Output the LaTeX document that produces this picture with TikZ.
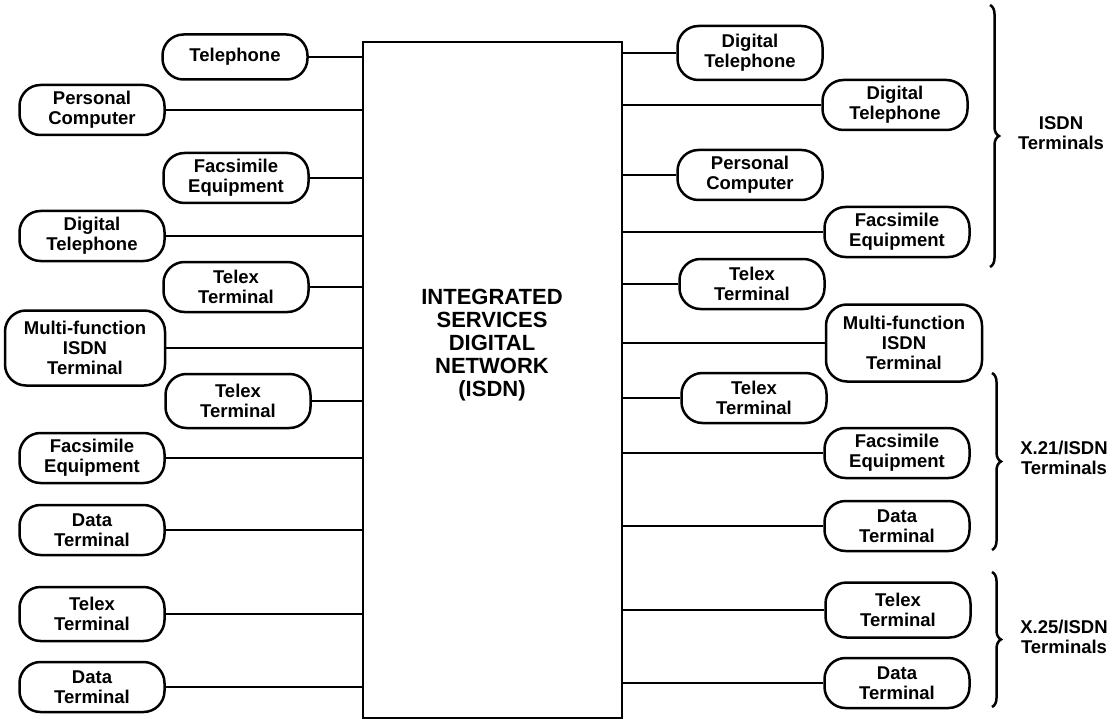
\documentclass[tikz,border=0pt]{standalone}
\usepackage{fontspec}
\setmainfont{Liberation Sans}
\usepackage{tikz}
\usetikzlibrary{positioning, decorations.pathreplacing}

\begin{document}
\begin{tikzpicture}[
        x=1pt, y=-1pt,
        every node/.style={font=\bfseries\fontsize{18.5}{20}\selectfont},
        term/.style={draw, line width=2.5pt, rounded corners=21pt, minimum width=145pt, minimum height=50pt, align=center, inner sep=2pt},
        wire/.style={line width=2.3pt},
        grp/.style={line width=2.5pt, decorate, decoration={brace, amplitude=9pt}}
    ]
        \useasboundingbox (0,0) rectangle (1118,719);

        % Network
        \node (isdn) [draw, line width=2.2pt, minimum width=259pt, minimum height=676pt] at (492.5,380) {};
        \node (isdntext) [align=center, font=\bfseries\fontsize{22}{23}\selectfont] at (492,345) {INTEGRATED\\SERVICES\\DIGITAL\\NETWORK\\(ISDN)};

        % Left terminals
        \node (ltel) [term, minimum height=45pt] at (235,57) {Telephone};
        \node (lpc) [term] at (92,110) {Personal\\Computer};
        \node (lfax1) [term] at (236,178) {Facsimile\\Equipment};
        \node (ldtel) [term] at (92,236) {Digital\\Telephone};
        \node (ltlx1) [term] at (236,287) {Telex\\Terminal};
        \node (lmulti) [term, minimum width=160pt, minimum height=75pt] at (85,348) {Multi-function\\ISDN\\Terminal};
        \node (ltlx2) [term, minimum height=54pt] at (238,401) {Telex\\Terminal};
        \node (lfax2) [term] at (92,458) {Facsimile\\Equipment};
        \node (ldata1) [term] at (92,530) {Data\\Terminal};
        \node (ltlx3) [term, minimum height=54pt] at (92,614) {Telex\\Terminal};
        \node (ldata2) [term] at (92,687) {Data\\Terminal};

        % Right terminals
        \node (rdtel1) [term, minimum height=54pt] at (750,53) {Digital\\Telephone};
        \node (rdtel2) [term] at (895,105) {Digital\\Telephone};
        \node (rpc) [term] at (750,175) {Personal\\Computer};
        \node (rfax1) [term] at (897,232) {Facsimile\\Equipment};
        \node (rtlx1) [term] at (752,284) {Telex\\Terminal};
        \node (rmulti) [term, minimum width=156pt, minimum height=77pt] at (904,343) {Multi-function\\ISDN\\Terminal};
        \node (rtlx2) [term] at (754,398) {Telex\\Terminal};
        \node (rfax2) [term] at (897,453) {Facsimile\\Equipment};
        \node (rdata1) [term] at (897,526) {Data\\Terminal};
        \node (rtlx3) [term, minimum height=55pt] at (898,610) {Telex\\Terminal};
        \node (rdata2) [term] at (897,683) {Data\\Terminal};

        % Lines
        \foreach \t in {ltel, lpc, lfax1, ldtel, ltlx1, lmulti, ltlx2, lfax2, ldata1, ltlx3, ldata2}
            \draw [wire] (\t.east) -- (\t.east -| isdn.west);
        \foreach \t in {rdtel1, rdtel2, rpc, rfax1, rtlx1, rmulti, rtlx2, rfax2, rdata1, rtlx3, rdata2}
            \draw [wire] (\t.west) -- (\t.west -| isdn.east);

        % Groups
        \draw [grp] (990,5) -- (990,267);
        \draw [grp] (992,373) -- (992,550);
        \draw [grp] (992,572) -- (992,707);
        \node (isdngrp) [align=center] at (1061,133) {ISDN\\Terminals};
        \node (x21grp) [align=center] at (1064,458) {X.21/ISDN\\Terminals};
        \node (x25grp) [align=center] at (1064,637) {X.25/ISDN\\Terminals};
    \end{tikzpicture}
\end{document}
